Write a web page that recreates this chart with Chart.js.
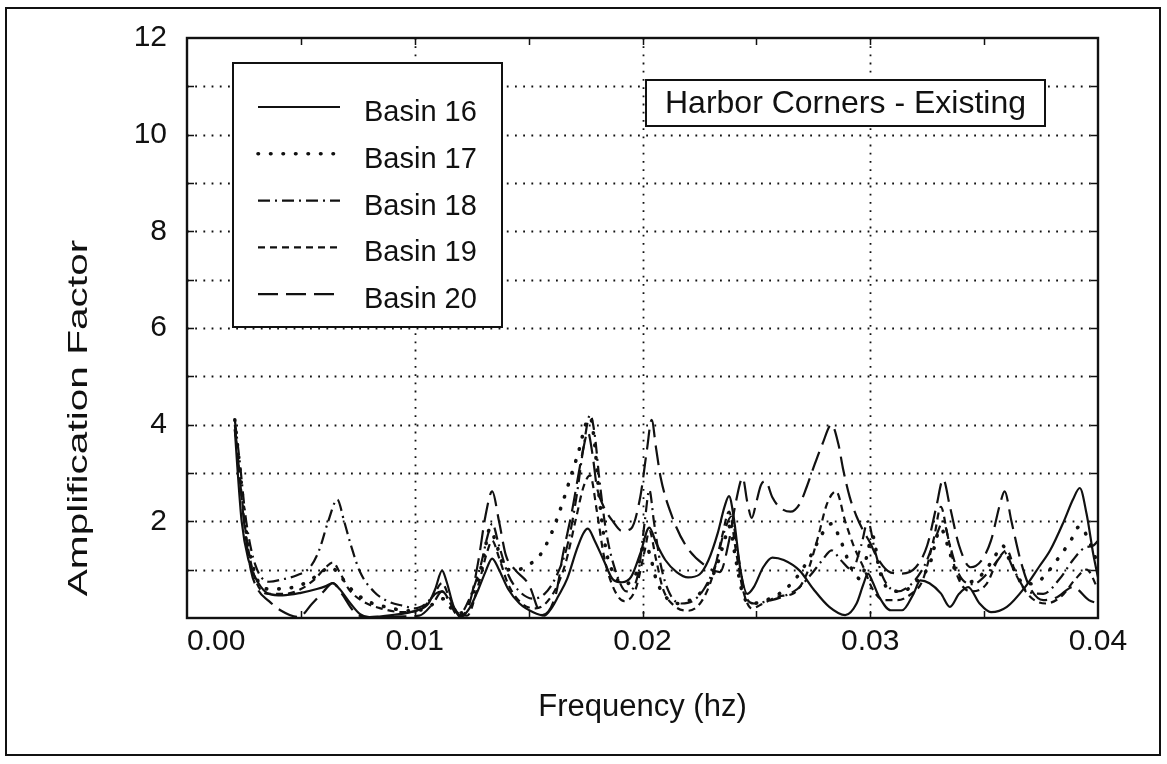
<!DOCTYPE html>
<html><head><meta charset="utf-8">
<script src="https://cdn.jsdelivr.net/npm/chart.js@4.4.0/dist/chart.umd.min.js"></script>
<style>html,body{margin:0;padding:0;background:#fff;}canvas{display:block;}</style>
</head><body>
<canvas id="c" width="1167" height="764"></canvas>
<script>
// ---- data ----
const seriesNames = ['Basin 16', 'Basin 17', 'Basin 18', 'Basin 19', 'Basin 20'];
const xTicks = [0.00, 0.01, 0.02, 0.03, 0.04];
const yTicks = [2, 4, 6, 8, 10, 12];

const freq16 = [0.0021,0.0022,0.0024,0.0027,0.0031,0.0036,0.0042,0.0050,0.0057,0.0061,0.0064,0.0067,0.0071,0.0076,0.0080,0.0090,0.0101,0.0106,0.0109,0.0112,0.0114,0.0117,0.0120,0.0124,0.0128,0.0131,0.0134,0.0137,0.0141,0.0146,0.0152,0.0157,0.0160,0.0163,0.0167,0.0171,0.0174,0.0176,0.0179,0.0183,0.0187,0.0191,0.0195,0.0199,0.0203,0.0206,0.0210,0.0215,0.0220,0.0225,0.0229,0.0233,0.0236,0.0238,0.0240,0.0243,0.0246,0.0249,0.0253,0.0257,0.0262,0.0269,0.0275,0.0282,0.0289,0.0294,0.0297,0.0299,0.0301,0.0304,0.0309,0.0314,0.0319,0.0322,0.0326,0.0331,0.0335,0.0339,0.0343,0.0348,0.0353,0.0360,0.0368,0.0374,0.0379,0.0385,0.0389,0.0392,0.0395,0.0398,0.0400];
const amp16 = [3.9,3.2,2.0,1.2,0.75,0.5,0.47,0.52,0.6,0.66,0.72,0.6,0.35,0.08,0.02,0.06,0.16,0.3,0.6,0.98,0.75,0.25,0.02,0.2,0.6,0.95,1.23,1.0,0.6,0.3,0.12,0.05,0.2,0.45,0.82,1.4,1.75,1.85,1.6,1.19,0.8,0.74,0.85,1.33,1.87,1.55,1.2,0.95,0.84,0.9,1.2,1.75,2.3,2.52,2.1,1.0,0.5,0.65,1.05,1.25,1.2,0.98,0.6,0.23,0.06,0.3,0.7,0.92,0.75,0.43,0.16,0.16,0.5,0.78,0.72,0.51,0.23,0.5,0.64,0.3,0.12,0.23,0.64,1.05,1.4,2.0,2.45,2.69,2.15,1.3,0.84];

const freq17 = [0.0021,0.0023,0.0026,0.0030,0.0036,0.0045,0.0053,0.0059,0.0063,0.0066,0.0071,0.0078,0.0088,0.0098,0.0105,0.0110,0.0113,0.0116,0.0120,0.0125,0.0130,0.0133,0.0136,0.0140,0.0145,0.0150,0.0155,0.0160,0.0165,0.0169,0.0172,0.0175,0.0177,0.0179,0.0181,0.0184,0.0187,0.0192,0.0197,0.0201,0.0203,0.0206,0.0210,0.0215,0.0220,0.0226,0.0232,0.0236,0.0238,0.0241,0.0244,0.0248,0.0253,0.0260,0.0267,0.0274,0.0279,0.0283,0.0287,0.0292,0.0296,0.0299,0.0301,0.0304,0.0308,0.0314,0.0320,0.0326,0.0331,0.0334,0.0338,0.0344,0.0350,0.0355,0.0358,0.0362,0.0368,0.0375,0.0382,0.0388,0.0392,0.0396,0.0400];
const amp17 = [4.1,3.2,1.8,0.9,0.6,0.62,0.75,0.95,1.05,0.95,0.65,0.38,0.22,0.15,0.2,0.35,0.4,0.2,0.1,0.45,1.2,1.85,1.5,1.0,1.0,1.1,1.3,1.75,2.4,3.0,3.45,4.0,4.15,3.6,2.5,1.4,0.95,0.7,0.9,1.5,1.35,0.8,0.45,0.3,0.35,0.55,1.0,1.6,1.9,1.2,0.5,0.3,0.35,0.5,0.8,1.3,1.75,1.95,1.6,1.0,0.8,1.4,1.7,1.0,0.6,0.55,0.75,1.1,1.85,1.5,0.9,0.75,0.95,1.3,1.5,1.1,0.7,0.8,1.2,1.6,1.9,1.6,1.1];

const freq18 = [0.0021,0.0023,0.0026,0.0030,0.0036,0.0042,0.0048,0.0054,0.0058,0.0062,0.0066,0.0069,0.0072,0.0076,0.0082,0.0088,0.0095,0.0100,0.0105,0.0109,0.0112,0.0115,0.0119,0.0124,0.0129,0.0132,0.0134,0.0137,0.0141,0.0146,0.0152,0.0157,0.0162,0.0167,0.0171,0.0174,0.0177,0.0179,0.0181,0.0184,0.0188,0.0193,0.0198,0.0201,0.0203,0.0205,0.0208,0.0212,0.0217,0.0222,0.0227,0.0232,0.0236,0.0239,0.0242,0.0245,0.0249,0.0255,0.0262,0.0268,0.0274,0.0279,0.0283,0.0287,0.0292,0.0296,0.0299,0.0302,0.0306,0.0312,0.0318,0.0324,0.0329,0.0332,0.0335,0.0339,0.0345,0.0351,0.0356,0.0359,0.0363,0.0369,0.0376,0.0383,0.0389,0.0394,0.0398,0.0400];
const amp18 = [4.1,3.3,2.0,1.1,0.75,0.8,0.88,1.05,1.4,2.0,2.45,2.0,1.5,0.95,0.55,0.35,0.25,0.2,0.3,0.5,0.55,0.35,0.05,0.4,1.1,1.7,1.95,1.5,0.9,0.55,0.4,0.5,0.85,1.5,2.5,3.5,4.2,3.8,2.9,1.8,1.0,0.55,0.9,2.0,2.65,2.0,1.1,0.5,0.3,0.35,0.6,1.1,1.8,2.1,1.3,0.5,0.3,0.35,0.45,0.6,0.9,1.2,1.4,1.2,1.0,1.5,2.0,1.4,0.8,0.55,0.7,1.1,1.7,2.0,1.5,0.9,0.7,0.9,1.2,1.35,1.0,0.55,0.5,0.8,1.2,1.45,1.5,1.6];

const freq19 = [0.0021,0.0023,0.0026,0.0030,0.0036,0.0043,0.0050,0.0056,0.0061,0.0064,0.0067,0.0071,0.0077,0.0085,0.0095,0.0103,0.0108,0.0112,0.0115,0.0119,0.0123,0.0128,0.0132,0.0134,0.0137,0.0141,0.0147,0.0153,0.0160,0.0166,0.0171,0.0174,0.0177,0.0180,0.0183,0.0187,0.0192,0.0197,0.0201,0.0203,0.0206,0.0209,0.0214,0.0220,0.0226,0.0231,0.0235,0.0238,0.0241,0.0244,0.0248,0.0253,0.0260,0.0266,0.0272,0.0277,0.0281,0.0285,0.0289,0.0293,0.0297,0.0301,0.0306,0.0312,0.0318,0.0323,0.0328,0.0331,0.0334,0.0338,0.0344,0.0351,0.0356,0.0360,0.0364,0.0370,0.0377,0.0384,0.0390,0.0395,0.0400];
const amp19 = [3.9,3.0,1.7,0.8,0.5,0.5,0.6,0.8,1.05,1.15,0.95,0.6,0.35,0.2,0.12,0.2,0.45,0.72,0.45,0.1,0.05,0.7,1.4,1.6,1.25,0.7,0.3,0.2,0.45,1.1,2.1,2.7,2.95,2.2,1.3,0.65,0.35,0.6,1.4,1.8,1.2,0.6,0.25,0.15,0.35,0.9,1.7,2.2,1.4,0.6,0.2,0.3,0.45,0.5,0.9,1.66,2.36,2.62,2.0,1.46,1.05,0.6,0.37,0.37,0.5,0.78,1.66,2.3,1.7,0.9,0.55,0.7,1.2,1.4,0.9,0.45,0.3,0.45,0.8,1.0,0.6];

const freq20 = [0.0021,0.0023,0.0025,0.0028,0.0031,0.0036,0.0041,0.0049,0.0055,0.0060,0.0064,0.0068,0.0073,0.0078,0.0090,0.0102,0.0108,0.0112,0.0116,0.0120,0.0124,0.0128,0.0131,0.0134,0.0137,0.0140,0.0144,0.0150,0.0156,0.0162,0.0165,0.0169,0.0172,0.0174,0.0176,0.0178,0.0180,0.0183,0.0187,0.0191,0.0195,0.0199,0.0202,0.0204,0.0206,0.0208,0.0213,0.0219,0.0227,0.0234,0.0238,0.0241,0.0244,0.0246,0.0248,0.0250,0.0252,0.0254,0.0257,0.0260,0.0265,0.0269,0.0272,0.0275,0.0279,0.0283,0.0286,0.0288,0.0291,0.0294,0.0297,0.0300,0.0303,0.0309,0.0314,0.0320,0.0325,0.0329,0.0332,0.0335,0.0339,0.0344,0.0349,0.0353,0.0357,0.0359,0.0362,0.0366,0.0370,0.0376,0.0382,0.0389,0.0396,0.0400];
const amp20 = [4.0,3.0,2.0,1.0,0.6,0.35,0.16,0.02,0.3,0.55,0.72,0.5,0.15,0.02,0.03,0.05,0.3,0.55,0.3,0.05,0.3,1.2,2.1,2.62,2.0,1.3,1.0,0.7,0.06,0.5,1.3,2.2,3.0,3.5,3.85,3.4,2.7,2.3,2.0,1.8,1.85,2.5,3.5,4.1,3.5,2.9,2.1,1.5,1.1,0.95,1.6,2.4,2.9,2.4,2.07,2.4,2.75,2.83,2.5,2.3,2.2,2.36,2.7,3.1,3.6,4.0,3.6,3.1,2.5,2.1,1.8,1.55,1.25,0.94,0.92,1.05,1.5,2.3,2.87,2.3,1.5,1.05,1.2,1.6,2.36,2.62,2.0,1.19,0.64,0.37,0.43,0.64,0.37,0.3];

const freqs = [freq16, freq17, freq18, freq19, freq20];
const amps = [amp16, amp17, amp18, amp19, amp20];

// ---- styles ----
const dashes = [[], [0.5, 12], [12, 5, 2, 5], [7, 5], [20, 8]];
const widths = [2.2, 3.6, 2.2, 2.2, 2.2];
const caps = ['butt', 'round', 'butt', 'butt', 'butt'];
const INK = '#111';
const FONT = "'Liberation Sans', Arial, sans-serif";

const datasets = seriesNames.map((name, i) => ({
  label: name,
  data: freqs[i].map((f, j) => ({ x: f, y: amps[i][j] })),
  borderColor: INK,
  borderWidth: widths[i],
  borderDash: dashes[i],
  borderCapStyle: caps[i],
  pointRadius: 0,
  fill: false,
  cubicInterpolationMode: 'monotone'
}));

const decor = {
  id: 'decor',
  beforeDraw(chart) {
    const ctx = chart.ctx;
    ctx.save();
    ctx.fillStyle = '#fff';
    ctx.fillRect(0, 0, chart.width, chart.height);
    ctx.strokeStyle = INK; ctx.lineWidth = 2;
    ctx.strokeRect(6, 8, 1154, 747);
    ctx.restore();
  },
  beforeDatasetsDraw(chart) {
    const { ctx, chartArea: a, scales: { x, y } } = chart;
    ctx.save();
    ctx.strokeStyle = INK;
    ctx.lineWidth = 1.8;
    ctx.setLineDash([1.8, 6.4]);
    for (let v = 1; v <= 11; v++) {
      const py = Math.round(y.getPixelForValue(v)) + 0.5;
      ctx.beginPath(); ctx.moveTo(a.left, py); ctx.lineTo(a.right, py); ctx.stroke();
    }
    for (const v of [0.01, 0.02, 0.03]) {
      const px = Math.round(x.getPixelForValue(v)) + 0.5;
      ctx.beginPath(); ctx.moveTo(px, a.top); ctx.lineTo(px, a.bottom); ctx.stroke();
    }
    ctx.setLineDash([]);
    ctx.lineWidth = 1.5;
    const tl = 7;
    for (let v = 1; v <= 11; v++) {
      const py = Math.round(y.getPixelForValue(v)) + 0.5;
      ctx.beginPath();
      ctx.moveTo(a.left, py); ctx.lineTo(a.left + tl, py);
      ctx.moveTo(a.right, py); ctx.lineTo(a.right - tl, py);
      ctx.stroke();
    }
    for (let k = 1; k < 8; k++) {
      const px = Math.round(x.getPixelForValue(k * 0.005)) + 0.5;
      ctx.beginPath();
      ctx.moveTo(px, a.top); ctx.lineTo(px, a.top + tl);
      ctx.moveTo(px, a.bottom); ctx.lineTo(px, a.bottom - tl);
      ctx.stroke();
    }
    ctx.lineWidth = 2.4;
    ctx.strokeRect(a.left, a.top, a.right - a.left, a.bottom - a.top);
    ctx.restore();
  },
  afterDatasetsDraw(chart) {
    const ctx = chart.ctx;
    ctx.save();
    // legend box
    const L = { l: 233, t: 63, r: 502, b: 327 };
    ctx.fillStyle = '#fff';
    ctx.fillRect(L.l, L.t, L.r - L.l, L.b - L.t);
    ctx.strokeStyle = INK; ctx.lineWidth = 2;
    ctx.strokeRect(L.l, L.t, L.r - L.l, L.b - L.t);
    ctx.font = '29px ' + FONT;
    ctx.textBaseline = 'middle';
    ctx.textAlign = 'left';
    chart.data.datasets.forEach((ds, i) => {
      const cy = 112 + i * 46.8;
      ctx.save();
      ctx.strokeStyle = ds.borderColor;
      ctx.lineWidth = ds.borderWidth;
      ctx.lineCap = ds.borderCapStyle;
      ctx.setLineDash(ds.borderDash);
      ctx.beginPath(); ctx.moveTo(258, cy - 5); ctx.lineTo(340, cy - 5); ctx.stroke();
      ctx.restore();
      ctx.fillStyle = INK;
      ctx.fillText(ds.label, 364, cy + 1);
    });
    // title box
    const T = { l: 646, t: 80, r: 1045, b: 126 };
    ctx.fillStyle = '#fff';
    ctx.fillRect(T.l, T.t, T.r - T.l, T.b - T.t);
    ctx.strokeStyle = INK; ctx.lineWidth = 2;
    ctx.strokeRect(T.l, T.t, T.r - T.l, T.b - T.t);
    ctx.fillStyle = INK;
    ctx.font = '32px ' + FONT;
    ctx.textAlign = 'center';
    ctx.fillText('Harbor Corners - Existing', (T.l + T.r) / 2, (T.t + T.b) / 2 + 1);
    ctx.restore();
  },
  afterDraw(chart) {
    const ctx = chart.ctx;
    ctx.save();
    ctx.translate(79, 418);
    ctx.rotate(-Math.PI / 2);
    ctx.scale(1.45, 1);
    ctx.font = '28px ' + FONT;
    ctx.fillStyle = INK;
    ctx.textAlign = 'center';
    ctx.textBaseline = 'middle';
    ctx.fillText('Amplification Factor', 0, 0);
    ctx.restore();
  }
};

new Chart(document.getElementById('c'), {
  type: 'line',
  data: { datasets },
  options: {
    responsive: false,
    animation: false,
    devicePixelRatio: 1,
    layout: { padding: { top: 35, right: 69, bottom: 0, left: 0 } },
    plugins: { legend: { display: false }, tooltip: { enabled: false } },
    scales: {
      x: {
        type: 'linear', min: 0, max: 0.04,
        afterFit: s => { s.height = 146; },
        afterBuildTicks: s => { s.ticks = xTicks.map(v => ({ value: v })); },
        grid: { display: false, drawTicks: false },
        border: { display: false },
        ticks: {
          color: INK, padding: 6, maxRotation: 0, autoSkip: false,
          font: { family: FONT, size: 30 },
          callback: v => (v === 0 ? '\u2007\u2007\u2007 ' : '') + Number(v).toFixed(2)
        },
        title: {
          display: true, text: 'Frequency (hz)', color: INK,
          font: { family: FONT, size: 31 },
          padding: { top: 0, bottom: 38 }
        }
      },
      y: {
        min: 0, max: 12,
        afterFit: s => { s.width = 187; },
        afterBuildTicks: s => { s.ticks = yTicks.map(v => ({ value: v })); },
        grid: { display: false, drawTicks: false },
        border: { display: false },
        ticks: {
          color: INK, padding: 20,
          font: { family: FONT, size: 30 },
          callback: v => String(v)
        }
      }
    }
  },
  plugins: [decor]
});
</script>
</body></html>
